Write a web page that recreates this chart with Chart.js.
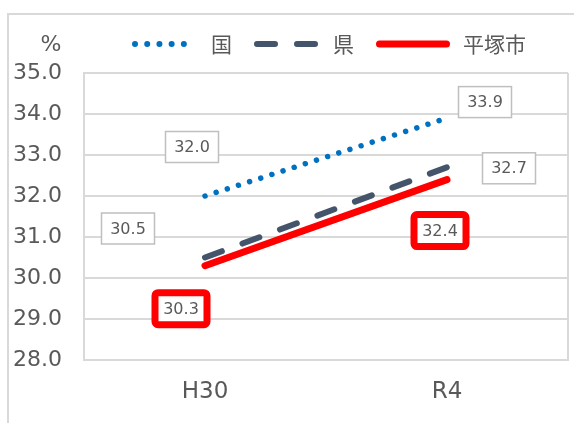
<!DOCTYPE html>
<html>
<head>
<meta charset="utf-8">
<script src="https://cdn.jsdelivr.net/npm/chart.js@4.4.0/dist/chart.umd.min.js"></script>
<style>
  html, body { margin: 0; padding: 0; background: #fff; }
  #wrap { width: 574px; height: 423px; position: relative; }
</style>
</head>
<body>
<div id="wrap"><canvas id="grafico"></canvas></div>
<script>
// dados
const categorias = ['H30', 'R4'];
const nacional = [32.0, 33.9];   // 国
const provincia = [30.5, 32.7];  // 県
const hiratsuka = [30.3, 32.4];  // 平塚市
const nomes = ['国', '県', '平塚市'];
const yTicks = [28, 29, 30, 31, 32, 33, 34, 35];

const corTexto = '#595959';
const fonte = "'DejaVu Sans', 'Noto Sans CJK JP', sans-serif";
const fonteJP = "'Noto Sans CJK JP', sans-serif";

// posição dos rótulos em relação ao ponto
const deslocRotulos = [
    [[-13, -49], [38, -16]],
    [[-77, -29], [62, 1]],
    [[-24, 43], [-7, 51]]
];

const rotulosPlugin = {
    id: 'rotulos',
    beforeDraw(chart) {
        const ctx = chart.ctx
        ctx.save()
        ctx.strokeStyle = '#d9d9d9'
        ctx.lineWidth = 2
        ctx.strokeRect(8, 14, 700, 600)
        // "%"
        ctx.fillStyle = corTexto
        ctx.font = '22px ' + fonte
        ctx.textAlign = 'center'
        ctx.textBaseline = 'middle'
        ctx.fillText('%', 51, 45)
        ctx.restore()
    },
    afterDraw(chart) {
        const ctx = chart.ctx
        const area = chart.chartArea
        ctx.save()
        // borda direita da área do gráfico
        ctx.strokeStyle = '#d9d9d9'
        ctx.lineWidth = 2
        ctx.beginPath()
        ctx.moveTo(area.right, area.top)
        ctx.lineTo(area.right, area.bottom)
        ctx.stroke()

        // legenda
        const comprimentos = [66, 66, 74]
        ctx.font = '21px ' + fonteJP
        ctx.textBaseline = 'middle'
        ctx.textAlign = 'left'
        const larguras = chart.data.datasets.map(ds => ctx.measureText(ds.label).width)
        const gapTexto = 13, gapItem = 22
        let total = 0
        comprimentos.forEach((c, i) => { total += c + gapTexto + larguras[i] })
        total += gapItem * (comprimentos.length - 1)
        let x = (area.left + area.right) / 2 + 3 - total / 2
        const y = 44
        chart.data.datasets.forEach((ds, i) => {
            ctx.strokeStyle = ds.borderColor
            ctx.lineWidth = i === 0 ? 6 : ds.borderWidth
            ctx.lineCap = ds.borderCapStyle || 'butt'
            ctx.setLineDash(i === 0 ? [0.01, 12.2] : (ds.borderDash || []))
            const r = ctx.lineWidth / 2
            ctx.beginPath()
            ctx.moveTo(x + r, y)
            ctx.lineTo(x + comprimentos[i] - r, y)
            ctx.stroke()
            ctx.setLineDash([])
            x += comprimentos[i] + gapTexto
            ctx.fillStyle = corTexto
            ctx.fillText(ds.label, x, y)
            x += larguras[i] + gapItem
        })
        ctx.restore()
    },
    afterDatasetsDraw(chart) {
        const ctx = chart.ctx
        ctx.save()
        ctx.font = '16px ' + fonte
        ctx.textAlign = 'center'
        ctx.textBaseline = 'middle'
        chart.data.datasets.forEach((ds, d) => {
            const meta = chart.getDatasetMeta(d)
            meta.data.forEach((pt, i) => {
                const cx = pt.x + deslocRotulos[d][i][0]
                const cy = pt.y + deslocRotulos[d][i][1]
                const txt = ds.data[i].toFixed(1)
                if (d === 2) {
                    const w = 52, h = 32
                    ctx.fillStyle = '#fff'
                    ctx.strokeStyle = '#ff0000'
                    ctx.lineWidth = 7
                    ctx.beginPath()
                    ctx.roundRect(cx - w / 2, cy - h / 2, w, h, 3)
                    ctx.fill()
                    ctx.stroke()
                } else {
                    const w = 53, h = 31
                    ctx.fillStyle = '#fff'
                    ctx.strokeStyle = '#bfbfbf'
                    ctx.lineWidth = 1.5
                    ctx.fillRect(cx - w / 2, cy - h / 2, w, h)
                    ctx.strokeRect(cx - w / 2, cy - h / 2, w, h)
                }
                ctx.fillStyle = corTexto
                ctx.fillText(txt, cx, cy + 1)
            })
        })
        ctx.restore()
    }
}

const data = {
    labels: categorias,
    datasets: [
        {
            label: nomes[0],
            data: nacional,
            borderColor: '#0070c0',
            backgroundColor: '#0070c0',
            borderWidth: 5.5,
            borderDash: [0.01, 11.7],
            borderCapStyle: 'round',
            pointRadius: 0
        },
        {
            label: nomes[1],
            data: provincia,
            borderColor: '#44546a',
            backgroundColor: '#44546a',
            borderWidth: 6,
            borderDash: [18, 22],
            borderCapStyle: 'round',
            pointRadius: 0
        },
        {
            label: nomes[2],
            data: hiratsuka,
            borderColor: '#ff0000',
            backgroundColor: '#ff0000',
            borderWidth: 7,
            borderCapStyle: 'round',
            pointRadius: 0
        }
    ]
}

const config = {
    type: 'line',
    data: data,
    plugins: [rotulosPlugin],
    options: {
        responsive: false,
        animation: false,
        layout: { padding: { top: 73, right: 6, left: 0, bottom: 0 } },
        plugins: {
            tooltip: { enabled: false },
            legend: { display: false }
        },
        scales: {
            x: {
                offset: true,
                grid: { display: false, drawTicks: false },
                border: { display: true, color: '#d9d9d9', width: 2 },
                ticks: { color: corTexto, font: { family: fonte, size: 23 }, padding: 18 },
                afterFit(s) { s.height = 63 }
            },
            y: {
                min: 28,
                max: 35,
                afterBuildTicks(s) { s.ticks = yTicks.map(v => ({ value: v })) },
                grid: { color: '#d9d9d9', lineWidth: 2, drawTicks: false },
                border: { display: true, color: '#d9d9d9', width: 2 },
                ticks: {
                    color: corTexto,
                    font: { family: fonte, size: 22 },
                    padding: 22,
                    callback: v => Number(v).toFixed(1)
                },
                afterFit(s) { s.width = 84 }
            }
        }
    }
}

const cv = document.getElementById('grafico')
cv.width = 574
cv.height = 423
new Chart(cv.getContext('2d'), config)
</script>
</body>
</html>
